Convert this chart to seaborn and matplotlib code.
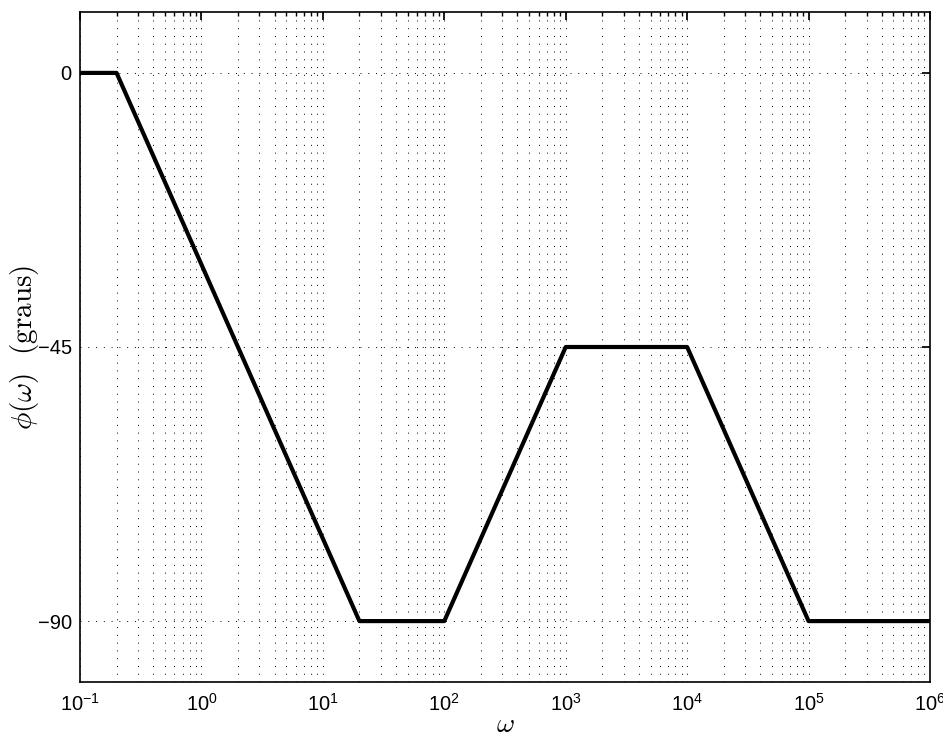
import matplotlib
matplotlib.use("Agg")
import matplotlib.pyplot as plt
import seaborn as sns
import pandas as pd
import numpy as np
from matplotlib.ticker import LogLocator, NullFormatter

sns.set_theme(style="white")
plt.rcParams['font.family'] = ['Liberation Sans', 'DejaVu Sans']
plt.rcParams['mathtext.fontset'] = 'cm'

omega = [0.1, 0.2, 20, 100, 1000, 10000, 100000, 1000000]
phase = [0, 0, -90, -90, -45, -45, -90, -90]
yticks = [-90, -45, 0]
ytick_labels = ["\u221290", "\u221245", "0"]

df = pd.DataFrame({"omega": omega, "phase": phase})

fig = plt.figure(figsize=(9.43, 7.34), dpi=100)
ax = fig.add_axes([80/943, 52/734, 850/943, 670/734])
sns.lineplot(data=df, x="omega", y="phase", ax=ax, color="black", linewidth=3,
             estimator=None, sort=False)
ax.set_xscale("log")
ax.set_xlim(0.1, 1e6)
ax.set_ylim(-100, 10)
ax.set_yticks(yticks)
ax.set_yticklabels(ytick_labels)
ax.xaxis.set_major_locator(LogLocator(base=10, numticks=20))
ax.xaxis.set_minor_locator(LogLocator(base=10, subs=np.arange(2, 10), numticks=100))
ax.xaxis.set_minor_formatter(NullFormatter())

gs = (0, (1, 7))
ax.grid(True, which="major", axis="both", color="black", linestyle=gs, linewidth=0.7)
ax.grid(True, which="minor", axis="x", color="black", linestyle=gs, linewidth=0.7)

for s in ax.spines.values():
    s.set_color("black")
    s.set_linewidth(1.2)
ax.tick_params(axis="both", which="both", direction="in", top=True, right=True,
               color="black", labelsize=14.5, labelcolor="black")
ax.tick_params(which="major", length=6)
ax.tick_params(which="minor", length=3)
ax.tick_params(axis="x", pad=8)
ax.tick_params(axis="y", pad=6)

ax.set_xlabel(r"$\omega$", fontsize=20, color="black")
ax.xaxis.set_label_coords(0.5, -0.045)
ax.set_ylabel(r"$\phi(\omega)\ \ (\mathrm{graus})$", fontsize=21, color="black")
ax.yaxis.set_label_coords(-0.046, 0.5)

fig.savefig("out.png", dpi=100, facecolor="white")
